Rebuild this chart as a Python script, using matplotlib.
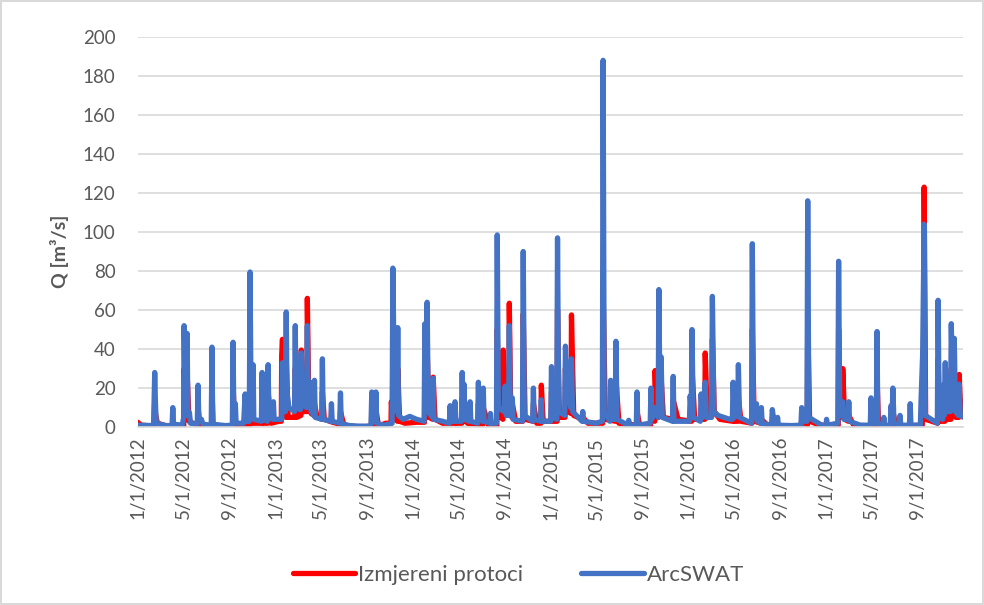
import pandas as pd
import matplotlib
matplotlib.use('Agg')
import matplotlib.pyplot as plt

obs_dates = [
    '2012-01-01', '2012-01-10', '2012-02-13', '2012-02-15', '2012-02-17', '2012-02-22',
    '2012-03-20', '2012-04-02', '2012-04-03', '2012-04-06', '2012-05-02', '2012-05-03',
    '2012-05-07', '2012-05-10', '2012-05-11', '2012-05-16', '2012-06-08', '2012-06-09',
    '2012-06-14', '2012-07-15', '2012-07-16', '2012-07-19', '2012-09-09', '2012-09-10',
    '2012-09-14', '2012-10-24', '2012-10-25', '2012-10-30', '2012-11-25', '2012-11-26',
    '2012-11-30', '2012-12-11', '2012-12-12', '2012-12-20', '2013-01-10', '2013-01-16',
    '2013-01-17', '2013-01-19', '2013-01-23', '2013-01-28', '2013-01-29', '2013-02-03',
    '2013-02-21', '2013-02-22', '2013-02-26', '2013-03-09', '2013-03-10', '2013-03-14',
    '2013-03-25', '2013-03-26', '2013-03-30', '2013-04-05', '2013-04-13', '2013-04-14',
    '2013-04-20', '2013-05-04', '2013-05-05', '2013-05-10', '2013-06-01', '2013-06-21',
    '2013-06-22', '2013-07-01', '2013-08-01', '2013-09-12', '2013-09-13', '2013-09-17',
    '2013-09-23', '2013-09-24', '2013-10-01', '2013-10-20', '2013-11-03', '2013-11-04',
    '2013-11-07', '2013-11-08', '2013-11-14', '2013-11-20', '2013-11-21', '2013-11-26',
    '2013-12-10', '2014-01-10', '2014-01-31', '2014-02-01', '2014-02-04', '2014-02-07',
    '2014-02-12', '2014-02-22', '2014-02-23', '2014-02-28', '2014-03-20', '2014-04-21',
    '2014-04-22', '2014-04-26', '2014-05-10', '2014-05-11', '2014-05-14', '2014-05-16',
    '2014-05-25', '2014-06-22', '2014-06-23', '2014-06-27', '2014-07-05', '2014-07-06',
    '2014-07-20', '2014-08-11', '2014-08-12', '2014-08-16', '2014-08-27', '2014-08-28',
    '2014-09-01', '2014-09-12', '2014-09-13', '2014-09-17', '2014-09-20', '2014-09-21',
    '2014-09-30', '2014-10-19', '2014-10-20', '2014-10-25', '2014-11-15', '2014-11-16',
    '2014-11-25', '2014-12-06', '2014-12-07', '2014-12-12', '2015-01-02', '2015-01-03',
    '2015-01-08', '2015-01-18', '2015-01-19', '2015-01-24', '2015-02-08', '2015-02-09',
    '2015-02-14', '2015-02-24', '2015-02-25', '2015-03-03', '2015-03-26', '2015-03-27',
    '2015-04-10', '2015-05-19', '2015-05-20', '2015-05-26', '2015-06-22', '2015-06-23',
    '2015-07-01', '2015-08-17', '2015-08-18', '2015-08-25', '2015-09-23', '2015-09-24',
    '2015-10-04', '2015-10-05', '2015-10-09', '2015-10-14', '2015-10-15', '2015-10-20',
    '2015-10-21', '2015-10-27', '2015-11-21', '2015-11-22', '2015-12-05', '2016-01-10',
    '2016-01-11', '2016-01-18', '2016-02-14', '2016-02-15', '2016-02-20', '2016-03-04',
    '2016-03-05', '2016-03-10', '2016-03-25', '2016-04-28', '2016-04-29', '2016-05-03',
    '2016-05-12', '2016-05-13', '2016-05-20', '2016-06-18', '2016-06-19', '2016-06-24',
    '2016-07-12', '2016-07-13', '2016-08-01', '2016-10-27', '2016-10-28', '2016-11-12',
    '2016-11-13', '2016-11-18', '2016-12-15', '2017-02-02', '2017-02-03', '2017-02-08',
    '2017-02-13', '2017-02-14', '2017-02-19', '2017-03-01', '2017-03-02', '2017-03-15',
    '2017-05-15', '2017-05-16', '2017-05-20', '2017-06-26', '2017-06-27', '2017-07-05',
    '2017-09-13', '2017-09-14', '2017-09-17', '2017-09-18', '2017-09-22', '2017-10-24',
    '2017-10-25', '2017-10-29', '2017-11-12', '2017-11-13', '2017-11-17', '2017-11-28',
    '2017-11-29', '2017-12-03', '2017-12-07', '2017-12-11', '2017-12-19', '2017-12-20',
    '2017-12-24', '2017-12-28', '2017-12-29', '2017-12-31',
]
obs_values = [
    2.5, 1, 0.5, 14, 7, 2,
    0.5, 0.5, 4, 0.5, 0.8, 30,
    4, 4, 28, 3, 1, 10,
    1, 0.5, 20, 0.5, 0.5, 22,
    1, 1, 40, 2, 2, 15,
    2, 2, 18, 2, 3, 3,
    37, 45, 6, 5, 35, 5,
    5, 30, 5, 6, 39.5, 8,
    8, 66, 10, 7, 6, 12,
    6, 4, 18, 4, 2.5, 1.5,
    8, 1, 0.3, 0.3, 9, 0.5,
    0.5, 9, 0.5, 2, 2, 13,
    5, 57, 4, 3, 30, 3,
    2, 2.5, 2.5, 30, 5, 40,
    5, 4, 25.6, 4, 2, 2,
    6, 2, 2, 15, 3, 12,
    2, 1.5, 12, 1.5, 1.5, 10,
    1, 1, 50, 6, 4, 39.5,
    8, 6, 63.5, 6, 5, 12,
    3, 3, 58, 4, 3, 12,
    2, 2, 21.5, 3, 3, 18,
    3, 3, 60, 5, 5, 30,
    8, 7, 57.5, 6, 4, 5,
    2, 2, 70, 4, 3, 25,
    2, 1, 8, 1, 1, 10,
    3, 29, 5, 5, 45, 10,
    25, 5, 4, 14, 4, 3,
    30, 4, 4, 38, 8, 6,
    45, 8, 4, 3, 10, 3,
    3, 15, 3, 2, 50, 3,
    2, 4, 0.5, 0.5, 4, 1,
    55, 3, 1, 1, 50, 6,
    5, 30, 4, 3, 6, 1,
    0.5, 25, 1, 0.5, 8, 0.5,
    1, 20, 15, 123, 4, 2,
    35, 3, 3, 15, 4, 4,
    30, 6, 25, 5, 5, 27,
    8, 8, 13, 10,
]

# ArcSWAT (simulated)
swat_dates = [
    '2012-01-01', '2012-02-12', '2012-02-15', '2012-02-17', '2012-02-19', '2012-03-15',
    '2012-04-01', '2012-04-03', '2012-04-05', '2012-04-28', '2012-05-02', '2012-05-03',
    '2012-05-06', '2012-05-10', '2012-05-11', '2012-05-13', '2012-05-17', '2012-05-20',
    '2012-06-07', '2012-06-09', '2012-06-11', '2012-06-18', '2012-06-22', '2012-07-14',
    '2012-07-16', '2012-07-18', '2012-08-20', '2012-09-08', '2012-09-10', '2012-09-12',
    '2012-09-16', '2012-09-18', '2012-10-08', '2012-10-12', '2012-10-14', '2012-10-23',
    '2012-10-25', '2012-10-28', '2012-11-01', '2012-11-02', '2012-11-04', '2012-11-24',
    '2012-11-26', '2012-11-28', '2012-12-10', '2012-12-12', '2012-12-14', '2012-12-24',
    '2012-12-26', '2012-12-28', '2013-01-17', '2013-01-19', '2013-01-21', '2013-01-27',
    '2013-01-29', '2013-01-31', '2013-02-05', '2013-02-20', '2013-02-22', '2013-02-24',
    '2013-03-03', '2013-03-06', '2013-03-08', '2013-03-10', '2013-03-12', '2013-03-24',
    '2013-03-26', '2013-03-28', '2013-04-02', '2013-04-05', '2013-04-12', '2013-04-14',
    '2013-04-16', '2013-05-03', '2013-05-05', '2013-05-07', '2013-05-27', '2013-05-29',
    '2013-05-31', '2013-06-20', '2013-06-22', '2013-06-24', '2013-07-15', '2013-08-10',
    '2013-09-01', '2013-09-11', '2013-09-13', '2013-09-16', '2013-09-22', '2013-09-24',
    '2013-09-26', '2013-10-15', '2013-11-06', '2013-11-08', '2013-11-12', '2013-11-19',
    '2013-11-21', '2013-11-23', '2013-12-05', '2013-12-23', '2014-01-10', '2014-01-30',
    '2014-02-01', '2014-02-04', '2014-02-07', '2014-02-10', '2014-02-21', '2014-02-23',
    '2014-02-25', '2014-03-20', '2014-04-07', '2014-04-09', '2014-04-11', '2014-04-20',
    '2014-04-22', '2014-04-24', '2014-05-09', '2014-05-11', '2014-05-13', '2014-05-16',
    '2014-05-18', '2014-05-30', '2014-06-01', '2014-06-03', '2014-06-21', '2014-06-23',
    '2014-06-25', '2014-07-04', '2014-07-06', '2014-07-08', '2014-07-23', '2014-07-25',
    '2014-07-27', '2014-08-10', '2014-08-12', '2014-08-15', '2014-08-30', '2014-09-02',
    '2014-09-05', '2014-09-11', '2014-09-13', '2014-09-16', '2014-09-21', '2014-09-23',
    '2014-10-18', '2014-10-20', '2014-10-23', '2014-11-14', '2014-11-16', '2014-11-18',
    '2014-12-05', '2014-12-07', '2014-12-09', '2015-01-01', '2015-01-03', '2015-01-05',
    '2015-01-17', '2015-01-19', '2015-01-22', '2015-02-07', '2015-02-09', '2015-02-13',
    '2015-02-23', '2015-02-25', '2015-02-28', '2015-03-25', '2015-03-27', '2015-03-29',
    '2015-05-01', '2015-05-18', '2015-05-20', '2015-05-23', '2015-06-07', '2015-06-09',
    '2015-06-11', '2015-06-21', '2015-06-23', '2015-06-26', '2015-07-25', '2015-07-27',
    '2015-07-29', '2015-08-16', '2015-08-18', '2015-08-20', '2015-09-22', '2015-09-24',
    '2015-09-26', '2015-10-05', '2015-10-13', '2015-10-15', '2015-10-18', '2015-10-21',
    '2015-10-24', '2015-11-20', '2015-11-22', '2015-11-24', '2016-01-04', '2016-01-06',
    '2016-01-09', '2016-01-11', '2016-01-14', '2016-02-02', '2016-02-04', '2016-02-08',
    '2016-02-15', '2016-02-18', '2016-03-03', '2016-03-05', '2016-03-09', '2016-03-20',
    '2016-04-20', '2016-04-27', '2016-04-29', '2016-05-02', '2016-05-11', '2016-05-13',
    '2016-05-16', '2016-06-17', '2016-06-19', '2016-06-22', '2016-06-30', '2016-07-02',
    '2016-07-11', '2016-07-13', '2016-07-15', '2016-08-09', '2016-08-11', '2016-08-14',
    '2016-08-23', '2016-08-25', '2016-08-27', '2016-10-01', '2016-10-26', '2016-10-28',
    '2016-11-01', '2016-11-11', '2016-11-13', '2016-11-16', '2016-12-20', '2017-01-01',
    '2017-01-02', '2017-01-04', '2017-02-01', '2017-02-03', '2017-02-06', '2017-02-14',
    '2017-02-17', '2017-02-28', '2017-03-02', '2017-03-04', '2017-04-01', '2017-04-28',
    '2017-04-30', '2017-05-02', '2017-05-14', '2017-05-16', '2017-05-18', '2017-06-01',
    '2017-06-03', '2017-06-05', '2017-06-20', '2017-06-22', '2017-06-25', '2017-06-27',
    '2017-06-30', '2017-07-14', '2017-07-16', '2017-07-18', '2017-08-10', '2017-08-12',
    '2017-08-14', '2017-09-08', '2017-09-10', '2017-09-14', '2017-09-18', '2017-09-21',
    '2017-10-23', '2017-10-25', '2017-10-28', '2017-11-06', '2017-11-08', '2017-11-10',
    '2017-11-13', '2017-11-16', '2017-11-27', '2017-11-29', '2017-12-03', '2017-12-07',
    '2017-12-10', '2017-12-18', '2017-12-20', '2017-12-23', '2017-12-31',
]
swat_values = [
    1, 0.8, 28, 12, 2, 0.8,
    0.8, 10, 1.5, 1, 5, 52,
    6, 10, 48, 6, 7.5, 2,
    1.5, 21.5, 4, 4, 1.5, 1,
    41, 1.5, 0.8, 1, 43.5, 3,
    12, 2, 2, 17, 3, 3,
    79.5, 6, 6, 32, 4, 3,
    28, 4, 3, 32, 5, 4,
    13, 4, 4, 33, 8, 8,
    59, 18, 10, 8, 52, 15,
    22, 9, 9, 38, 12, 10,
    52, 20, 23, 8, 6, 24,
    5, 4, 35, 4, 3, 12,
    3, 2, 17.5, 2, 0.8, 0.5,
    0.5, 1, 18, 3, 3, 18,
    2, 1, 2, 81.5, 20, 8,
    51, 6, 4, 5.5, 4, 3,
    53, 15, 64, 8, 5, 25,
    4, 3, 2, 11, 3, 3,
    13, 3, 3, 28, 6, 22,
    4, 3, 13, 3, 2, 23,
    4, 3, 20, 3, 2, 7,
    2, 2, 98.5, 10, 8, 21,
    6, 6, 52, 6, 15, 4,
    3, 90, 6, 3, 20, 4,
    3, 14, 3, 3, 31, 5,
    4, 97, 8, 6, 41.5, 20,
    10, 35, 8, 3, 8, 3,
    2, 3, 188, 8, 3, 24,
    4, 4, 44, 4, 1, 3.5,
    1, 1, 18, 1, 2, 20,
    4, 10, 5, 70.5, 10, 36,
    5, 3, 26, 3, 3, 16,
    8, 50, 5, 3, 17, 5,
    23, 5, 5, 67, 8, 6,
    4, 4, 23, 5, 6, 32,
    5, 2, 94, 5, 12, 3,
    2, 10, 2, 1, 9, 5,
    1, 5, 1, 0.8, 1, 10,
    3, 3, 116, 5, 1, 1,
    4, 1, 2, 85, 6, 13,
    4, 4, 13, 3, 1, 1,
    15, 2, 2, 49, 2, 1,
    5, 1, 1, 11, 5, 20,
    2, 1, 6, 1, 1, 12,
    1, 1, 15, 37, 104, 6,
    2, 65, 5, 4, 21.5, 6,
    33, 8, 8, 53, 12, 45.5,
    8, 6, 22, 6, 5,
]

tick_dates = ['2012-01-01', '2012-05-01', '2012-09-01', '2013-01-01', '2013-05-01', '2013-09-01',
              '2014-01-01', '2014-05-01', '2014-09-01', '2015-01-01', '2015-05-01', '2015-09-01',
              '2016-01-01', '2016-05-01', '2016-09-01', '2017-01-01', '2017-05-01', '2017-09-01']
tick_labels = ['1/1/2012', '5/1/2012', '9/1/2012', '1/1/2013', '5/1/2013', '9/1/2013',
               '1/1/2014', '5/1/2014', '9/1/2014', '1/1/2015', '5/1/2015', '9/1/2015',
               '1/1/2016', '5/1/2016', '9/1/2016', '1/1/2017', '5/1/2017', '9/1/2017']

plt.rcParams['font.family'] = ['Lato', 'DejaVu Sans']
text_gray = '#595959'
grid_gray = '#D9D9D9'

fig = plt.figure(figsize=(9.84, 6.05), dpi=100)
fig.patch.set_edgecolor(grid_gray)
fig.patch.set_linewidth(1.5)
ax = fig.add_axes([0.140, 0.294, 0.839, 0.645])

line_kw = dict(linewidth=3.8, solid_joinstyle='round', solid_capstyle='round')
ax.plot(pd.to_datetime(obs_dates), obs_values, color='#FF0000', label='Izmjereni protoci', **line_kw)
ax.plot(pd.to_datetime(swat_dates), swat_values, color='#4472C4', label='ArcSWAT', **line_kw)

ax.set_ylim(0, 200)
ax.set_yticks(range(0, 201, 20))
ax.set_xlim(pd.Timestamp('2012-01-01'), pd.Timestamp('2017-12-31'))
ax.set_xticks(pd.to_datetime(tick_dates))
ax.set_xticklabels(tick_labels, rotation=90)

ax.grid(axis='y', color=grid_gray, linewidth=1.2)
ax.set_axisbelow(True)
for side in ['top', 'right', 'left']:
    ax.spines[side].set_visible(False)
ax.spines['bottom'].set_color(grid_gray)
ax.spines['bottom'].set_linewidth(1.2)
ax.tick_params(axis='both', length=0, labelsize=13.5, labelcolor=text_gray)
ax.tick_params(axis='x', pad=7)
ax.tick_params(axis='y', pad=16)

ax.set_ylabel('Q [m³/s]', fontsize=14, fontweight='bold', color=text_gray)
ax.yaxis.set_label_coords(-0.083, 0.45)

fig.legend(loc='center', bbox_to_anchor=(0.527, 0.05), ncol=2, frameon=False,
           fontsize=16, handlelength=2.8, handletextpad=0.15, columnspacing=2.6,
           labelcolor=text_gray)

fig.savefig('out.png', dpi=100)
